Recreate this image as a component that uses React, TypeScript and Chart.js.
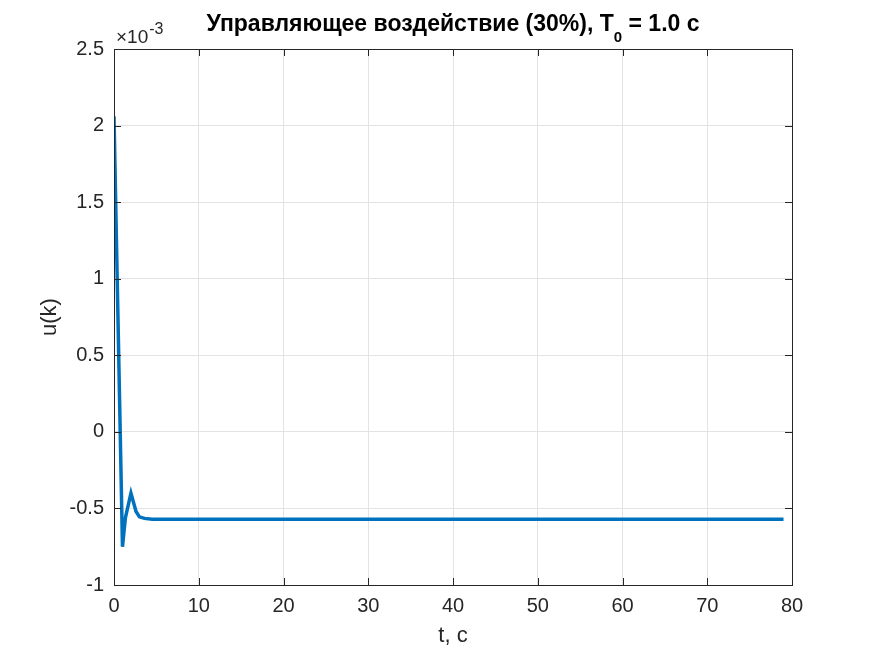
import { useEffect, useRef } from "react";
import { Chart, registerables } from "chart.js";

Chart.register(...registerables);

// time, s
const timeSeconds = [0, 1, 1.2, 1.35, 2, 2.6, 3, 3.6, 4.5, 79];
// u(k), in units of 1e-3
const controlValues = [2.06, -0.75, -0.64, -0.56, -0.4, -0.52, -0.555, -0.565, -0.57, -0.57];
const xTickValues = [0, 10, 20, 30, 40, 50, 60, 70, 80];
const yTickValues = [-1, -0.5, 0, 0.5, 1, 1.5, 2, 2.5];

const titleMain = "Управляющее воздействие (30%), T";
const titleSub = "0";
const titleTail = " = 1.0 с";
const xAxisLabel = "t, с";
const yAxisLabel = "u(k)";
const exponentBase = "×10";
const exponentPower = "-3";

const FONT = "'Liberation Sans', Arial, Helvetica, sans-serif";
const AXIS_COLOR = "#262626";

const decorPlugin = {
  id: "matlabDecor",
  afterDraw(chart: any) {
    const ctx = chart.ctx as CanvasRenderingContext2D;
    const { left, right, top, bottom } = chart.chartArea;
    const xs = chart.scales.x;
    const ys = chart.scales.y;
    ctx.save();
    // box
    ctx.strokeStyle = AXIS_COLOR;
    ctx.lineWidth = 1;
    ctx.strokeRect(Math.round(left) + 0.5, Math.round(top) + 0.5, Math.round(right - left), Math.round(bottom - top));
    // inner ticks
    const tl = 7;
    ctx.beginPath();
    for (const v of xTickValues) {
      const px = Math.round(xs.getPixelForValue(v)) + 0.5;
      ctx.moveTo(px, bottom);
      ctx.lineTo(px, bottom - tl);
      ctx.moveTo(px, top);
      ctx.lineTo(px, top + tl);
    }
    for (const v of yTickValues) {
      const py = Math.round(ys.getPixelForValue(v)) + 0.5;
      ctx.moveTo(left, py);
      ctx.lineTo(left + tl, py);
      ctx.moveTo(right, py);
      ctx.lineTo(right - tl, py);
    }
    ctx.stroke();

    // exponent label
    ctx.fillStyle = AXIS_COLOR;
    ctx.textBaseline = "alphabetic";
    ctx.textAlign = "left";
    ctx.font = `19px ${FONT}`;
    ctx.fillText(exponentBase, left + 2, 43);
    const bw = ctx.measureText(exponentBase).width;
    ctx.font = `16px ${FONT}`;
    ctx.fillText(exponentPower, left + 3 + bw, 34);

    // title with subscript
    const mainFont = `bold 23px ${FONT}`;
    const subFont = `bold 15px ${FONT}`;
    ctx.fillStyle = "#000000";
    ctx.font = mainFont;
    const w1 = ctx.measureText(titleMain).width;
    const w3 = ctx.measureText(titleTail).width;
    ctx.font = subFont;
    const w2 = ctx.measureText(titleSub).width;
    const total = w1 + w2 + w3;
    let x = (left + right) / 2 - total / 2;
    const baseY = 31;
    ctx.font = mainFont;
    ctx.fillText(titleMain, x, baseY);
    x += w1;
    ctx.font = subFont;
    ctx.fillText(titleSub, x, baseY + 10.5);
    x += w2;
    ctx.font = mainFont;
    ctx.fillText(titleTail, x, baseY);
    ctx.restore();
  },
};

export default function App() {
  const canvasRef = useRef<HTMLCanvasElement | null>(null);

  useEffect(() => {
    const canvas = canvasRef.current;
    if (!canvas) return;
    const data = timeSeconds.map((t, i) => ({ x: t, y: controlValues[i] }));
    const chart = new Chart(canvas, {
      type: "line",
      data: {
        datasets: [
          {
            data,
            borderColor: "#0072BD",
            borderWidth: 3.5,
            pointRadius: 0,
            fill: false,
            tension: 0,
          },
        ],
      },
      options: {
        animation: false,
        responsive: false,
        devicePixelRatio: 1,
        layout: { padding: { top: 49, right: 83, left: 0, bottom: 0 } },
        plugins: {
          legend: { display: false },
          title: { display: false },
          tooltip: { enabled: false },
        },
        scales: {
          x: {
            type: "linear",
            min: 0,
            max: 80,
            afterFit: (s: any) => {
              s.height = 71;
            },
            afterBuildTicks: (s: any) => {
              s.ticks = xTickValues.map((v) => ({ value: v }));
            },
            ticks: {
              color: AXIS_COLOR,
              font: { family: FONT, size: 20 },
              padding: 9,
              maxRotation: 0,
              callback: (v: any) => String(v),
            },
            grid: { color: "#e3e3e3", drawTicks: false },
            border: { display: false },
            title: {
              display: true,
              text: xAxisLabel,
              color: AXIS_COLOR,
              font: { family: FONT, size: 22 },
              padding: { top: 0, bottom: 7 },
            },
          },
          y: {
            type: "linear",
            min: -1,
            max: 2.5,
            afterFit: (s: any) => {
              s.width = 114;
            },
            afterBuildTicks: (s: any) => {
              s.ticks = yTickValues.map((v) => ({ value: v }));
            },
            ticks: {
              color: AXIS_COLOR,
              font: { family: FONT, size: 20 },
              padding: 10,
              callback: (v: any) => String(v),
            },
            grid: { color: "#e3e3e3", drawTicks: false },
            border: { display: false },
            title: {
              display: true,
              text: yAxisLabel,
              color: AXIS_COLOR,
              font: { family: FONT, size: 22 },
              padding: { top: 37, bottom: 0 },
            },
          },
        },
      },
      plugins: [decorPlugin],
    });
    return () => chart.destroy();
  }, []);

  return (
    <div style={{ position: "fixed", left: 0, top: 0, width: 875, height: 656, background: "#ffffff" }}>
      <canvas ref={canvasRef} width={875} height={656} />
    </div>
  );
}
